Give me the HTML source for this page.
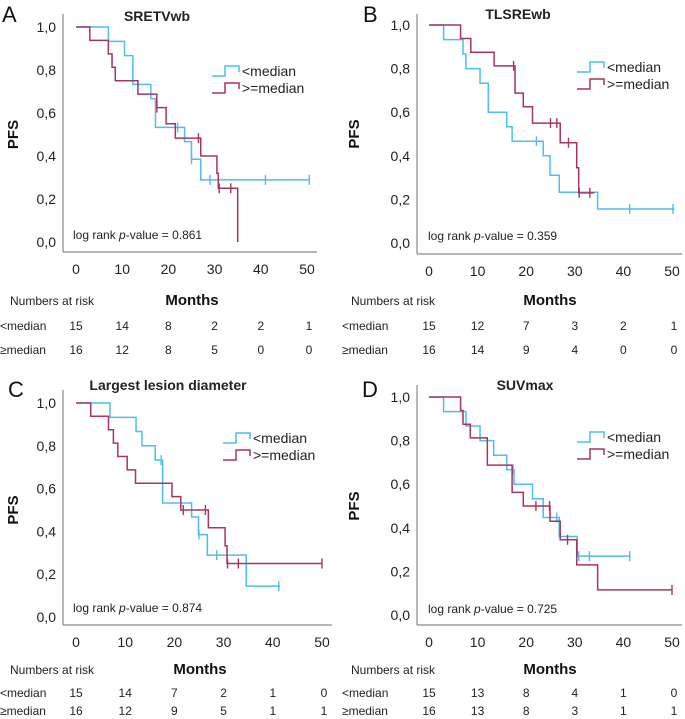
<!DOCTYPE html>
<html><head><meta charset="utf-8"><style>
html,body{margin:0;padding:0;background:#fff;width:685px;height:719px;overflow:hidden}
svg{display:block;font-family:"Liberation Sans",Arial,sans-serif}
</style></head><body>
<svg id="chart" width="685" height="719" viewBox="0 0 685 719" xmlns="http://www.w3.org/2000/svg"></svg>
<script>
// ---------- data ----------
const xTicks = [0,10,20,30,40,50];
const yTicks = [0,0.2,0.4,0.6,0.8,1.0];
const yTickLabels = ["0,0","0,2","0,4","0,6","0,8","1,0"];
const panelLetters = ["A","B","C","D"];
const panelTitles = ["SRETVwb","TLSREwb","Largest lesion diameter","SUVmax"];
const pValues = ["0.861","0.359","0.874","0.725"];
const riskLow = [[15,14,8,2,2,1],[15,12,7,3,2,1],[15,14,7,2,1,0],[15,13,8,4,1,0]];
const riskHigh = [[16,12,8,5,0,0],[16,14,9,4,0,0],[16,12,9,5,1,1],[16,13,8,3,1,1]];
// step curves: [time, survival after step]
const lowTimesA = [0,7,10.5,12.3,16.2,17.2,23.5,25,27];
const lowSurvA  = [1,0.933,0.867,0.733,0.667,0.533,0.467,0.385,0.289];
const lowEndA = 50.5;
const lowCensA = [22,25,29,41,50.5];
const highTimesA = [0,3,7,7.8,8.5,13.4,17.5,19.5,21.5,27,30.5,30.8,35];
const highSurvA  = [1,0.938,0.875,0.813,0.75,0.688,0.625,0.55,0.483,0.40,0.32,0.25,0];
const highEndA = 35;
const highCensA = [17.5,26.5,31,33.5];

const lowTimesB = [0,3,7,7.6,10.5,12.2,16,17.1,23.5,24.9,26.8,34.7];
const lowSurvB  = [1,0.933,0.867,0.80,0.733,0.60,0.533,0.467,0.40,0.311,0.233,0.156];
const lowEndB = 50.5;
const lowCensB = [22.1,41.3,50.2];
const highTimesB = [0,6.5,8.6,13.4,17.7,19.4,21.3,27,30.4,30.8];
const highSurvB  = [1,0.938,0.875,0.8125,0.6875,0.625,0.55,0.46,0.345,0.23];
const highEndB = 34;
const highCensB = [17.4,25,26.3,28.7,30.9,33.1];

const lowTimesC = [0,6.9,12.2,13.4,16.1,17.6,23.5,24.9,26.7,34.6];
const lowSurvC  = [1,0.933,0.867,0.80,0.733,0.533,0.467,0.385,0.289,0.144];
const lowEndC = 41.5;
const lowCensC = [17.3,25,28.6,41.2];
const highTimesC = [0,3,6.6,7.6,8.5,10.4,12.1,19.5,21.3,26.9,30.3,30.7];
const highSurvC  = [1,0.938,0.875,0.8125,0.75,0.6875,0.625,0.5625,0.50,0.417,0.333,0.25];
const highEndC = 50;
const highCensC = [21.8,26.3,30.8,33,50];

const lowTimesD = [0,3,7.6,10.5,13.3,16,17.5,21.3,23.5,26.8,30.5];
const lowSurvD  = [1,0.933,0.867,0.80,0.733,0.667,0.60,0.533,0.447,0.36,0.27];
const lowEndD = 41.5;
const lowCensD = [17.3,26.3,30.8,33,41.3];
const highTimesD = [0,6.5,7,8.5,12,17.1,19.4,24.9,27,30.4,34.7];
const highSurvD  = [1,0.938,0.875,0.8125,0.6875,0.5625,0.50,0.43,0.345,0.23,0.115];
const highEndD = 50;
const highCensD = [22,24.8,28.5,50];

const curves = [
 {lt:lowTimesA,ls:lowSurvA,le:lowEndA,lc:lowCensA,ht:highTimesA,hs:highSurvA,he:highEndA,hc:highCensA},
 {lt:lowTimesB,ls:lowSurvB,le:lowEndB,lc:lowCensB,ht:highTimesB,hs:highSurvB,he:highEndB,hc:highCensB},
 {lt:lowTimesC,ls:lowSurvC,le:lowEndC,lc:lowCensC,ht:highTimesC,hs:highSurvC,he:highEndC,hc:highCensC},
 {lt:lowTimesD,ls:lowSurvD,le:lowEndD,lc:lowCensD,ht:highTimesD,hs:highSurvD,he:highEndD,hc:highCensD}
];
// ---------- layout ----------
const geo = [
 {x0:76,x50:307,y1:27,y0:242,ax:63,ay:252,top:14,title:[157,21],letter:[2,22],pv:[73,239],leg:[212,71],rowY:[300,326,350],mx:192,lab:12},
 {x0:429,x50:672,y1:25,y0:243,ax:417,ay:254,top:14,title:[518,19],letter:[363,22],pv:[428,240],leg:[577,67],rowY:[300,326,350],mx:550,lab:353},
 {x0:76,x50:322,y1:403,y0:617,ax:63,ay:625,top:390,title:[168,390],letter:[8,397],pv:[73,612],leg:[223,438],rowY:[669,693,711],mx:200,lab:12},
 {x0:429,x50:672,y1:397,y0:615,ax:417,ay:625,top:385,title:[525,390],letter:[362,397],pv:[428,613],leg:[577,437],rowY:[669,693,711],mx:550,lab:353}
];
const BLUE="#4dbef2", RED="#a6355f";
const svg=document.getElementById('chart');
const NS="http://www.w3.org/2000/svg";
function mk(tag,attrs,parent){const e=document.createElementNS(NS,tag);for(const k in attrs)e.setAttribute(k,attrs[k]);(parent||svg).appendChild(e);return e;}
function txt(s,attrs,parent){const e=mk('text',attrs,parent);e.textContent=s;return e;}

geo.forEach((g,i)=>{
  const grp=mk('g',{});
  
  
  const sx=t=>g.x0+(g.x50-g.x0)*t/50;
  const sy=v=>g.y0+(g.y1-g.y0)*v;
  const ya=mk('line',{x1:g.ax,y1:g.top,x2:g.ax,y2:g.ay,stroke:'#8a8a8a','stroke-width':1.2},grp);
  
  
  const xa=mk('line',{x1:g.ax,y1:g.ay,x2:g.x50+10,y2:g.ay,stroke:'#8a8a8a','stroke-width':1.2},grp);
  
  
  yTicks.forEach((v,k)=>{
    const t=txt(yTickLabels[k],{x:g.ax-7,y:sy(v)+5,'text-anchor':'end','font-size':14,fill:'#222'},grp);
    
    
  });
  xTicks.forEach(v=>{
    const t=txt(String(v),{x:sx(v),y:g.ay+22,'text-anchor':'middle','font-size':14,fill:'#222'},grp);
    
    
  });
  const yl=txt('PFS',{x:0,y:0,'font-size':15,'font-weight':'bold',fill:'#111','text-anchor':'middle',transform:`translate(${g.lab+6},${(g.y0+g.y1)/2}) rotate(-90)`},grp);
  
  
  const ti=txt(panelTitles[i],{x:g.title[0],y:g.title[1],'text-anchor':'middle','font-size':14,'font-weight':'bold',fill:'#222'},grp);
  
  
  const le=txt(panelLetters[i],{x:g.letter[0],y:g.letter[1],'font-size':22,fill:'#111'},grp);
  
  
  const pv=mk('text',{x:g.pv[0],y:g.pv[1],'font-size':12,fill:'#222'},grp);
  
  
  pv.innerHTML='log rank <tspan font-style="italic">p</tspan>-value = '+pValues[i];
  const c=curves[i];
  function drawCurve(times,surv,end,cens,color,name){
    let d=`M${sx(times[0])},${sy(surv[0])}`;
    for(let k=1;k<times.length;k++){d+=` H${sx(times[k])} V${sy(surv[k])}`;}
    d+=` H${sx(end)}`;
    const p=mk('path',{d:d,fill:'none',stroke:color,'stroke-width':1.5},grp);
    
    
    cens.forEach(t=>{
      let v=surv[0];
      for(let k=0;k<times.length;k++){if(times[k]<=t)v=surv[k];}
      const m=mk('line',{x1:sx(t),x2:sx(t),y1:sy(v)-5,y2:sy(v)+5,stroke:color,'stroke-width':1.4},grp);
      
      
    });
  }
  drawCurve(c.lt,c.ls,c.le,c.lc,BLUE,'below-median');
  drawCurve(c.ht,c.hs,c.he,c.hc,RED,'above-median');
  [[BLUE,'<median'],[RED,'>=median']].forEach((L,k)=>{
    const lx=g.leg[0], ly=g.leg[1]+k*17;
    const lg=mk('g',{},grp);
    
    
    mk('path',{d:`M${lx},${ly+5} H${lx+13} V${ly-5} H${lx+27} V${ly+1}`,fill:'none',stroke:L[0],'stroke-width':1.5},lg);
    txt(L[1],{x:lx+30,y:ly+5,'font-size':14,fill:'#222'},lg);
  });
  const nr=txt('Numbers at risk',{x:g.lab-2,y:g.rowY[0]+5,'font-size':12,fill:'#222'},grp);
  
  
  const mo=txt('Months',{x:g.mx,y:g.rowY[0]+5,'text-anchor':'middle','font-size':15,'font-weight':'bold',fill:'#111'},grp);
  
  
  [['<median',riskLow[i]],['\u2265median',riskHigh[i]]].forEach((R,k)=>{
    const y=g.rowY[k+1]+4;
    const rl=txt(R[0],{x:g.lab-12+(i%2?1:0),y:y,'font-size':12,fill:'#222'},grp);
    
    
    R[1].forEach((n,j)=>{
      const rt=txt(String(n),{x:sx(xTicks[j])+(j===5?2:0),y:y,'text-anchor':'middle','font-size':12,fill:'#222'},grp);
      
      
    });
  });
});
</script>
</body></html>
